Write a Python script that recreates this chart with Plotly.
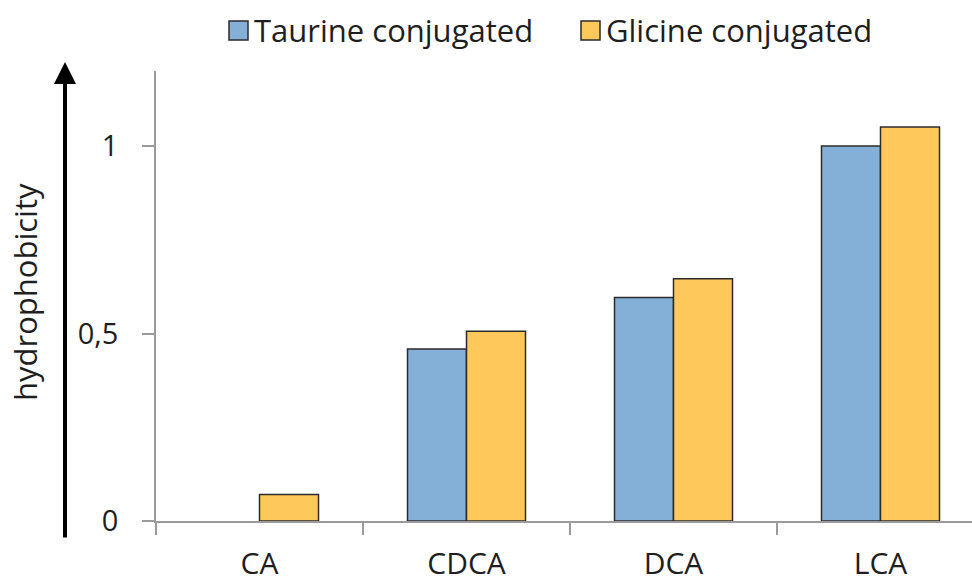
import plotly.graph_objects as go

categories = ["CA", "CDCA", "DCA", "LCA"]
series_names = ["Taurine conjugated", "Glicine conjugated"]
taurine = [None, 0.459, 0.596, 1.0]
glicine = [0.071, 0.506, 0.646, 1.051]
y_tick_vals = [0, 0.5, 1]
y_tick_text = ["0", "0,5", "1"]
y_title = "hydrophobicity"

colors = ["#84B0D8", "#FFC85A"]
FONT = "Open Sans"
TXT = "#1e1e1e"
W, H = 972, 579
L, R, T, B = 156, 0, 71, 58
PW, PH = W - L - R, H - T - B


def px(x):
    return (x - L) / PW


def py(y):
    return (H - B - y) / PH


fig = go.Figure()
for name, vals, col in zip(series_names, [taurine, glicine], colors):
    fig.add_trace(go.Bar(
        x=categories, y=vals, name=name,
        marker=dict(color=col, line=dict(color="#2b2b2b", width=1.5)),
        showlegend=False,
    ))

fig.update_layout(
    width=W, height=H,
    margin=dict(l=L, r=R, t=T, b=B, autoexpand=False),
    paper_bgcolor="white", plot_bgcolor="white",
    barmode="group", bargap=0.43, bargroupgap=0,
    font=dict(family=FONT, size=31, color=TXT),
    xaxis=dict(
        range=[-0.5, 3.442], showline=True, linecolor="#9a9a9a", linewidth=1.5,
        ticks="outside", tickson="boundaries", ticklen=12, tickcolor="#9a9a9a",
        tickwidth=1.5, showgrid=False, zeroline=False, ticklabelstandoff=15,
        automargin=False,
        tickfont=dict(family=FONT, size=30, color=TXT),
    ),
    yaxis=dict(
        range=[0, 1.2], showline=True, linecolor="#9a9a9a", linewidth=1.5,
        ticks="outside", ticklen=12, tickcolor="#9a9a9a", tickwidth=1.5,
        tickvals=y_tick_vals, ticktext=y_tick_text, showgrid=False,
        zeroline=False, ticklabelstandoff=18, automargin=False,
        tickfont=dict(family=FONT, size=29, color=TXT),
    ),
)

# big arrow on the left
fig.add_annotation(
    x=px(65), y=py(62), xref="paper", yref="paper",
    ax=0, ay=539 - 62, axref="pixel", ayref="pixel",
    showarrow=True, arrowhead=2, arrowsize=1.1, arrowwidth=4,
    arrowcolor="black", text="",
)

# y-axis title
fig.add_annotation(
    x=px(25), y=py(292), xref="paper", yref="paper",
    text=y_title, textangle=-90, showarrow=False,
    font=dict(family=FONT, size=31, color=TXT),
    xanchor="center", yanchor="middle",
)

# custom legend
leg = [(229, 252), (581, 604)]
for (sx, tx), name, col in zip(leg, series_names, colors):
    fig.add_shape(
        type="rect", xref="paper", yref="paper",
        x0=px(sx), x1=px(sx + 19), y0=py(40), y1=py(21),
        fillcolor=col, line=dict(color="#2b2b2b", width=1.5),
    )
    fig.add_annotation(
        x=px(tx), y=py(30), xref="paper", yref="paper",
        text=name, showarrow=False, xanchor="left", yanchor="middle",
        font=dict(family=FONT, size=31, color=TXT),
    )

fig.write_html(
    "out.html",
    config={"displayModeBar": False},
    post_script="document.body.style.margin='0';document.body.style.padding='0';",
)
